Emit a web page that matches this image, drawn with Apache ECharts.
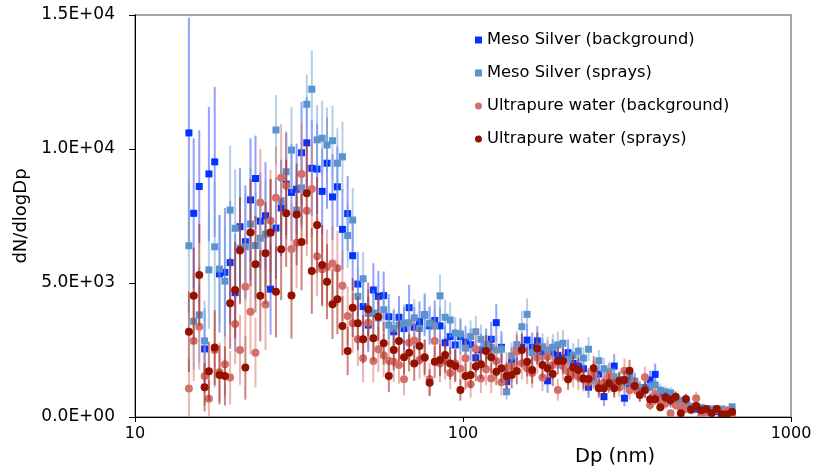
<!DOCTYPE html>
<html><head><meta charset="utf-8">
<script src="https://cdn.jsdelivr.net/npm/echarts@6/dist/echarts.min.js"></script>
<style>html,body{margin:0;padding:0;background:#fff}#c{width:814px;height:469px}</style>
</head><body><div id="c"></div>
<script>
// Particle diameter bins (nm)
const dp = [14.6,15.1,15.7,16.3,16.8,17.5,18.1,18.8,19.5,20.2,20.9,21.7,22.5,23.3,24.1,25.0,25.9,26.9,27.9,28.9,30.0,31.1,32.2,33.4,34.6,35.9,37.2,38.5,40.0,41.4,42.9,44.5,46.1,47.8,49.6,51.4,53.3,55.2,57.3,59.4,61.5,63.8,66.1,68.5,71.0,73.7,76.4,79.1,82.0,85.1,88.2,91.4,94.7,98.2,101.8,105.5,109.4,113.4,117.6,121.9,126.3,131.0,135.8,140.7,145.9,151.2,156.8,162.5,168.5,174.7,181.1,187.7,194.6,201.7,209.1,216.7,224.7,232.9,241.4,250.3,259.5,269.0,278.8,289.0,299.6,310.6,322.0,333.8,346.0,358.7,371.8,385.4,399.5,414.2,429.4,445.1,461.4,478.3,495.8,514.0,532.8,552.3,572.5,593.5,615.3,637.8,661.2];

const mesoBg = [10600,7600,8600,2540,9070,9520,5340,5400,5760,4640,7100,6540,8100,8900,7310,7510,4770,7050,7800,8690,8380,8500,9860,10230,9280,9250,8420,9470,8210,8590,7000,7590,6020,4960,4120,3430,4740,4500,4530,3740,3180,3720,3300,4080,3350,3560,3810,3400,3600,3400,2770,3000,2690,3000,2800,2700,2210,2500,2700,2900,3520,2600,1320,2060,2500,2600,2870,2600,2840,2440,1350,2400,2300,2200,2400,2000,1900,1800,1110,1500,1600,760,1400,1900,1300,700,1200,1300,1000,1100,1380,1590,800,700,600,500,400,500,300,300,200,200,150,200,100,150,50];
const mesoBgErr = [4300,2800,2100,1500,2500,2800,2200,2400,2300,2200,2200,2100,2300,1600,1800,2000,1700,1900,1800,1900,1800,1700,1900,1700,1800,1700,1600,1700,1600,1500,1500,1400,1300,1200,1100,1000,1000,950,900,850,800,800,800,850,750,750,800,700,750,700,650,650,600,650,600,600,550,600,600,650,700,600,450,550,550,550,600,550,550,500,450,500,500,500,500,450,450,450,400,400,400,350,400,450,350,300,350,350,300,300,350,400,250,250,250,200,200,200,150,150,150,150,120,120,100,100,100];

const mesoSp = [6390,3570,3810,2840,5490,6350,5520,5070,7720,7040,6300,6350,7200,6400,6670,6820,6870,10710,8070,9150,9960,7720,8550,11670,12230,10340,10400,10150,10310,9470,9710,6770,7350,4500,5160,3870,3880,3700,4000,3430,3300,3430,3500,3520,3700,3300,3800,3500,3400,4520,3720,3620,3130,3100,2570,3000,3180,2900,2710,2600,2500,2530,940,2280,2700,3370,3830,2400,2500,2620,2500,2600,2690,2750,2150,2300,2460,2200,2530,1380,2100,1800,1690,1500,1400,1300,1500,1340,1100,1000,1100,1200,1000,940,900,700,600,500,400,400,350,300,300,250,300,200,380];
const mesoSpErr = [2500,1800,1800,1500,2200,2400,2000,2000,2400,2200,2000,2000,2100,2000,2000,2000,2000,1300,1500,1500,1600,1500,1500,1120,1450,1300,1400,1400,1300,1300,1300,1200,1200,1100,1000,900,850,850,800,750,750,700,700,700,700,650,700,650,650,800,650,650,600,600,550,600,600,550,550,500,500,500,300,500,500,600,600,500,500,500,500,500,500,500,450,450,450,400,450,350,400,400,350,350,300,300,300,300,250,250,250,250,250,220,220,200,180,150,150,150,120,120,120,100,100,100,120];

const upwBg = [1060,2840,3370,1530,680,2500,1670,1970,1470,3470,2500,4860,3930,2400,8000,4200,7320,8180,8930,8630,6270,6500,9070,7700,8510,6000,5510,5600,5730,5550,4900,3770,3500,2900,2190,3520,2090,2530,2300,2100,2060,1940,1410,2770,2850,2130,2200,1410,2840,2000,2100,1640,2000,1800,2190,1220,2540,1440,1780,1440,2090,1300,1820,1900,2440,2000,1820,1640,2210,1470,2250,1940,1010,1900,1700,1600,1500,1400,1300,1600,1200,1300,1540,1200,1100,1730,1000,1200,900,1480,450,850,600,500,140,450,400,300,250,700,40,200,100,300,150,250,100];
const upwBgErr = [1100,1500,1600,1100,700,1400,1100,1200,1000,1500,1300,1800,1600,1300,2000,1700,1900,1900,2000,2000,1700,1700,1900,1700,1800,1500,1400,1400,1400,1400,1300,1100,1100,1000,900,1000,800,850,800,750,750,700,600,800,800,700,700,600,800,700,700,600,650,600,650,500,700,550,600,550,650,500,600,600,650,600,600,550,600,500,600,550,400,550,500,500,500,450,450,500,400,400,450,400,350,450,350,350,300,400,200,300,250,200,100,200,150,150,120,250,40,100,80,120,80,100,60];

const upwSp = [3180,4520,5300,1110,1710,2590,1570,1530,4240,4740,6210,1850,6880,5700,4520,6110,6880,4670,6260,7600,4530,7560,6530,8350,5450,7160,5670,5050,4210,4390,3400,2460,4080,3500,2900,4020,2940,3740,2750,1530,2500,2840,2230,2400,2000,2650,2230,1280,2060,2130,2310,2000,1900,1010,1530,1570,1880,1970,2460,2230,1690,1820,1540,1570,1720,2500,2060,1750,2560,1940,1820,1600,2090,2090,1410,1850,1750,1440,1420,1820,1070,1070,1260,1070,1340,1380,1730,1160,820,1010,660,660,360,740,630,760,140,670,290,410,250,300,150,300,100,100,200];
const upwSpErr = [1500,1800,1900,900,1100,1400,1100,1100,1700,1800,2000,1200,2000,1800,1700,1900,2000,1700,1900,2000,1600,1900,1800,1900,1600,1800,1500,1400,1300,1300,1100,900,1100,1000,900,1000,850,900,800,600,750,750,650,700,650,700,650,500,600,600,650,600,600,400,500,500,550,550,600,600,500,550,500,500,500,600,550,500,600,500,500,450,500,500,400,450,450,400,400,450,350,350,350,350,350,350,400,300,250,300,200,200,150,200,200,200,80,200,100,150,100,100,80,100,60,60,80];

const seriesNames = ['Meso Silver (background)','Meso Silver (sprays)','Ultrapure water (background)','Ultrapure water (sprays)'];

const FONT = 'DejaVu Sans';

function fmtE(v){
  if(v===0) return '0.0E+00';
  const e=Math.floor(Math.log10(v)+1e-9);
  const m=v/Math.pow(10,e);
  return m.toFixed(1)+'E+'+String(e).padStart(2,'0');
}

function build(vals, errs){ return dp.map((d,i)=>[d, vals[i], errs[i]]); }

function mkSeries(name, vals, errs, color, barColor, shape){
  return {
    name, type:'custom', clip:true,
    itemStyle:{color},
    data: build(vals, errs),
    encode:{x:0,y:1},
    renderItem(params, api){
      const x=api.value(0), y=api.value(1), e=api.value(2);
      const p=api.coord([x,y]);
      const t=api.coord([x,y+e]);
      const b=api.coord([x,Math.max(y-e,0)]);
      const kids=[{type:'line',shape:{x1:p[0],y1:t[1],x2:p[0],y2:b[1]},style:{stroke:barColor,lineWidth:2}}];
      if(shape==='rect') kids.push({type:'rect',shape:{x:p[0]-3.5,y:p[1]-3.5,width:7,height:7},style:{fill:color}});
      else kids.push({type:'circle',shape:{cx:p[0],cy:p[1],r:4},style:{fill:color}});
      return {type:'group',children:kids};
    }
  };
}

const chart = echarts.init(document.getElementById('c'), null, {renderer:'canvas'});
chart.setOption({
  animation:false,
  textStyle:{fontFamily:FONT},
  grid:{left:135,right:23,top:15,bottom:52,containLabel:false,outerBoundsMode:'none',show:true,borderColor:'#8a8a8a',borderWidth:1.5,backgroundColor:'transparent'},
  legend:{
    orient:'vertical', left:470, top:25, itemGap:13, itemWidth:7, itemHeight:7,
    textStyle:{fontFamily:FONT,fontSize:16.3,color:'#000',lineHeight:20},
    data:[{name:seriesNames[0],icon:'rect'},{name:seriesNames[1],icon:'rect'},{name:seriesNames[2],icon:'circle'},{name:seriesNames[3],icon:'circle'}]
  },
  xAxis:{
    type:'log', logBase:10, min:10, max:1000,
    name:'Dp (nm)', nameLocation:'middle', nameGap:27,
    nameTextStyle:{fontFamily:FONT,fontSize:19.5,color:'#000',padding:[0,0,0,304]},
    axisLine:{lineStyle:{color:'#000',width:1}},
    axisTick:{show:true,inside:false,length:5,lineStyle:{color:'#000'}},
    minorTick:{show:false}, splitLine:{show:false}, minorSplitLine:{show:false},
    axisLabel:{fontFamily:FONT,fontSize:16,color:'#000',margin:9,formatter:v=>String(Math.round(v))}
  },
  yAxis:{
    type:'value', min:0, max:15000, interval:5000,
    name:'dN/dlogDp', nameLocation:'middle', nameGap:102, nameRotate:90,
    nameTextStyle:{fontFamily:FONT,fontSize:18,color:'#000'},
    axisLine:{show:true,lineStyle:{color:'#000',width:1}},
    axisTick:{show:true,inside:false,length:6,lineStyle:{color:'#000'}},
    splitLine:{show:false},
    axisLabel:{fontFamily:FONT,fontSize:17,color:'#000',margin:20,formatter:v=>fmtE(v)}
  },
  series:[
    mkSeries(seriesNames[0], mesoBg, mesoBgErr, '#0433FF', 'rgba(40,70,255,0.5)', 'rect'),
    mkSeries(seriesNames[1], mesoSp, mesoSpErr, '#5B93CF', 'rgba(120,165,215,0.55)', 'rect'),
    mkSeries(seriesNames[2], upwBg, upwBgErr, '#D3706A', 'rgba(215,120,115,0.55)', 'circle'),
    mkSeries(seriesNames[3], upwSp, upwSpErr, '#941100', 'rgba(160,30,20,0.55)', 'circle')
  ]
});
</script></body></html>
